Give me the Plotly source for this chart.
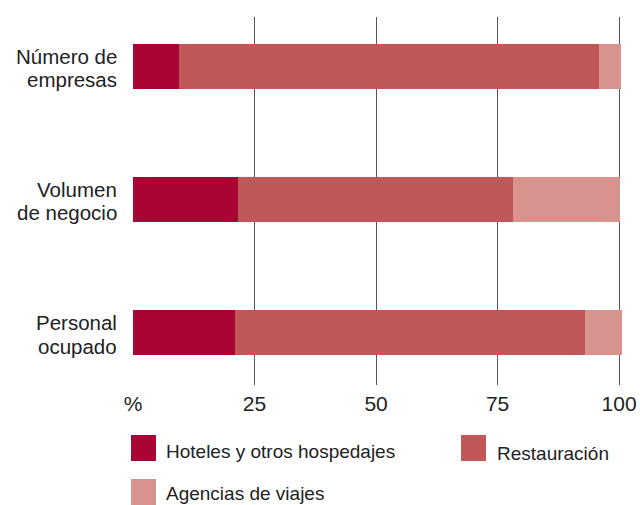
import plotly.graph_objects as go

categories = ["Número de<br>empresas", "Volumen<br>de negocio", "Personal<br>ocupado"]
series_names = ["Hoteles y otros hospedajes", "Restauración", "Agencias de viajes"]
hoteles = [9.4, 21.7, 21.0]
restauracion = [86.4, 56.4, 72.0]
agencias = [4.5, 22.0, 7.5]
tick_vals = [0, 25, 50, 75, 100]
tick_text = ["%", "25", "50", "75", "100"]
colors = ["#A80534", "#C0585A", "#D9938F"]

FONT = "Liberation Sans, Arial, sans-serif"
TXT = "#222222"

fig = go.Figure()
for name, vals, col in zip(series_names, [hoteles, restauracion, agencias], colors):
    fig.add_trace(go.Bar(
        y=categories, x=vals, name=name, orientation="h",
        marker=dict(color=col, line=dict(width=0)), width=0.338,
        showlegend=False, hoverinfo="x+name",
    ))

# plot area in pixels
L, T, W, H = 133, 17, 491, 368
FIG_W, FIG_H = 640, 505

def px(xp):
    return (xp - L) / W

def py(yp):
    return (T + H - yp) / H

shapes = []
annotations = []

# category labels, one annotation per line for tight line spacing
for cat in categories:
    lines = cat.split("<br>")
    for ln, shift in zip(lines, [10, -13.5]):
        annotations.append(dict(text=ln, xref="paper", yref="y", x=px(118.5), y=cat,
                                xanchor="right", yanchor="middle", yshift=shift,
                                showarrow=False, font=dict(family=FONT, size=20.5, color=TXT)))

legend_items = [
    (series_names[0], colors[0], 131, 435, 164, 451),
    (series_names[1], colors[1], 461, 435, 495, 453),
    (series_names[2], colors[2], 131, 479, 164, 493),
]
for name, col, sx, sy, tx, ty in legend_items:
    shapes.append(dict(type="rect", xref="paper", yref="paper",
                       x0=px(sx), x1=px(sx + 25), y0=py(sy + 26), y1=py(sy),
                       fillcolor=col, line=dict(width=0), layer="above"))
    annotations.append(dict(text=name, xref="paper", yref="paper",
                            x=px(tx), y=py(ty), xanchor="left", yanchor="middle",
                            showarrow=False, font=dict(family=FONT, size=19, color=TXT)))

fig.update_layout(
    barmode="stack",
    width=FIG_W, height=FIG_H,
    margin=dict(l=L, r=FIG_W - L - W, t=T, b=FIG_H - T - H, pad=0, autoexpand=False),
    paper_bgcolor="white", plot_bgcolor="white",
    font=dict(family=FONT, size=19, color=TXT),
    bargap=0,
    shapes=shapes,
    annotations=annotations,
    xaxis=dict(
        range=[0, 101], tickvals=tick_vals, ticktext=tick_text,
        showgrid=True, gridcolor="#555555", gridwidth=1,
        zeroline=False, showline=False, ticks="",
        ticklabelstandoff=4, automargin=False,
        tickfont=dict(family=FONT, size=21, color=TXT),
        fixedrange=True,
    ),
    yaxis=dict(
        type="category", categoryorder="array", categoryarray=categories,
        range=[2.394, -0.368],
        showgrid=False, zeroline=False, showline=False, ticks="",
        showticklabels=False, automargin=False,
        fixedrange=True,
    ),
)

fig.write_html("out.html", config={"displayModeBar": False},
               post_script="document.body.style.margin='0px';")
